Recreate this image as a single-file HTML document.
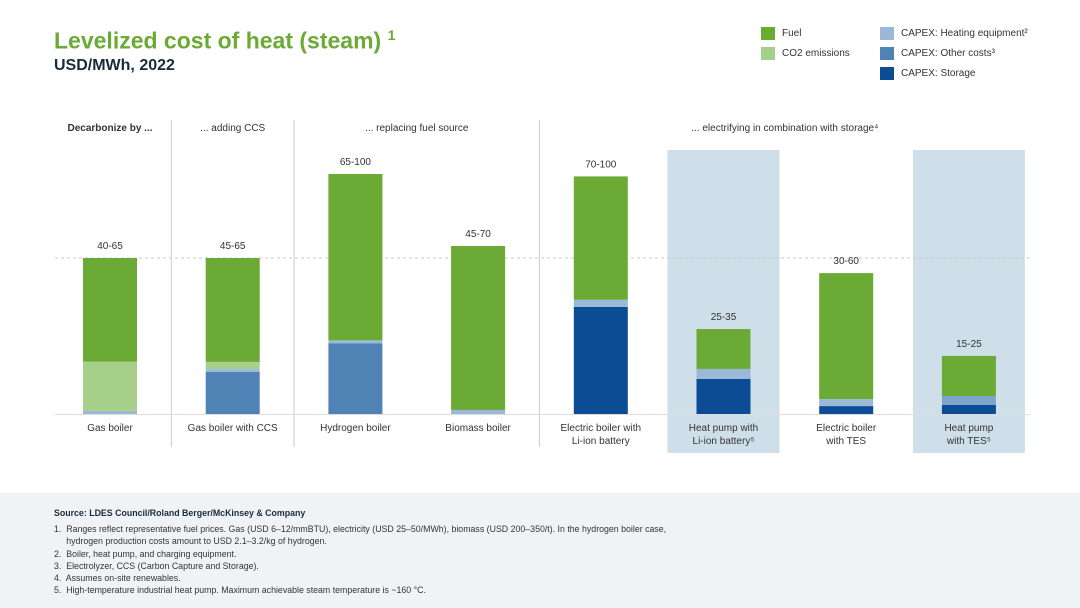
<!DOCTYPE html>
<html><head><meta charset="utf-8"><style>
body{margin:0;width:1080px;height:608px;background:#fff;font-family:"Liberation Sans",sans-serif;overflow:hidden;position:relative}
.t{position:absolute;white-space:nowrap}
</style></head><body>
<div class="t" style="left:54px;top:27px;font-size:23px;font-weight:bold;color:#6aaa35">Levelized cost of heat (steam) <sup style="font-size:14px">1</sup></div>
<div class="t" style="left:54px;top:57px;font-size:16px;font-weight:bold;color:#1a2a3a">USD/MWh, 2022</div>
<div style="position:absolute;left:0;top:0;font-size:10px;color:#333">
 <div class="t" style="left:761px;top:27px"><span style="display:inline-block;width:14px;height:13px;background:#6aaa35;vertical-align:middle;margin-right:7px"></span>Fuel</div>
 <div class="t" style="left:761px;top:47px"><span style="display:inline-block;width:14px;height:13px;background:#a6cf8a;vertical-align:middle;margin-right:7px"></span>CO2 emissions</div>
 <div class="t" style="left:880px;top:27px"><span style="display:inline-block;width:14px;height:13px;background:#9ab9d8;vertical-align:middle;margin-right:7px"></span>CAPEX: Heating equipment²</div>
 <div class="t" style="left:880px;top:47px"><span style="display:inline-block;width:14px;height:13px;background:#4f83b6;vertical-align:middle;margin-right:7px"></span>CAPEX: Other costs³</div>
 <div class="t" style="left:880px;top:67px"><span style="display:inline-block;width:14px;height:13px;background:#0b4c94;vertical-align:middle;margin-right:7px"></span>CAPEX: Storage</div>
</div>
<svg id="chart" width="1080" height="493" style="position:absolute;left:0;top:0;font-family:'Liberation Sans',sans-serif"></svg>
<div style="position:absolute;left:0;top:493px;width:1080px;height:115px;background:#f0f3f6;font-size:8.8px;color:#333;line-height:12.3px">
 <div class="t" style="left:54px;top:14px;font-weight:bold;color:#1a2a3a">Source: LDES Council/Roland Berger/McKinsey &amp; Company</div>
 <div class="t" style="left:54px;top:30px">1.&nbsp; Ranges reflect representative fuel prices. Gas (USD 6–12/mmBTU), electricity (USD 25–50/MWh), biomass (USD 200–350/t). In the hydrogen boiler case,<br>&nbsp;&nbsp;&nbsp;&nbsp; hydrogen production costs amount to USD 2.1–3.2/kg of hydrogen.<br>2.&nbsp; Boiler, heat pump, and charging equipment.<br>3.&nbsp; Electrolyzer, CCS (Carbon Capture and Storage).<br>4.&nbsp; Assumes on-site renewables.<br>5.&nbsp; High-temperature industrial heat pump. Maximum achievable steam temperature is ~160 °C.</div>
</div>
<script>
const categories=["Gas boiler","Gas boiler with CCS","Hydrogen boiler","Biomass boiler","Electric boiler with Li-ion battery","Heat pump with Li-ion battery","Electric boiler with TES","Heat pump with TES"];
const labelLines=[["Gas boiler"],["Gas boiler with CCS"],["Hydrogen boiler"],["Biomass boiler"],["Electric boiler with","Li-ion battery"],["Heat pump with","Li-ion battery⁵"],["Electric boiler","with TES"],["Heat pump","with TES⁵"]];
const ranges=["40-65","45-65","65-100","45-70","70-100","25-35","30-60","15-25"];
const storage=[0,0,0,0,44.6,14.6,3.3,3.75];
const other=[0,17.5,29.5,0,0,0,0,0];
const heating=[1.3,1.2,1.2,1.7,3,4.2,2.9,3.75];
const co2=[20.5,3,0,0,0,0,0,0];
const fuel=[43.2,43.3,69.3,68.3,51.4,16.6,52.5,16.7];
const highlighted=[false,false,false,false,false,true,false,true];
const groupHeaders=["Decarbonize by ...","... adding CCS","... replacing fuel source","... electrifying in combination with storage⁴"];
const groupStart=[0,1,2,4],groupEnd=[0,1,3,7];

const svg=document.getElementById('chart');const NS='http://www.w3.org/2000/svg';
function mk(t,a,p){const e=document.createElementNS(NS,t);for(const k in a)e.setAttribute(k,a[k]);(p||svg).appendChild(e);return e;}
const base=414,ppu=2.4,x0=110,step=122.7,bw=54;
const y=v=>base-v*ppu, xc=i=>x0+i*step;
categories.forEach((c,i)=>{if(highlighted[i]){const r=mk('rect',{x:xc(i)-56,y:150,width:112,height:303,fill:'#cfdfea'});

}});
mk('line',{x1:55,x2:1030,y1:y(65),y2:y(65),stroke:'#c8c8c8','stroke-dasharray':'3,3'});
groupHeaders.forEach((h,g)=>{const cx=(xc(groupStart[g])+xc(groupEnd[g]))/2;const t=mk('text',{x:g==0?xc(0):cx,y:131,'text-anchor':'middle','font-size':10,fill:'#333','font-weight':g==0?'bold':'normal'});t.textContent=h;


if(g>0){const l=mk('line',{x1:xc(groupStart[g])-step/2,x2:xc(groupStart[g])-step/2,y1:120,y2:447,stroke:'#ccc'});

}});
const series=[[storage,'#0b4c94','storage'],[other,'#4f83b6','other'],[heating,'#9ab9d8','heating'],[co2,'#a6cf8a','co2'],[fuel,'#6aaa35','fuel']];
categories.forEach((c,i)=>{let acc=0;series.forEach(([arr,col,n])=>{const v=arr[i];if(v>0){const fill=(n==='heating'&&i===7)?'#7fa3cb':col;const r=mk('rect',{x:xc(i)-bw/2,y:y(acc+v),width:bw,height:v*ppu,fill:fill});

}acc+=v;});
const t=mk('text',{x:xc(i),y:y(acc)-9,'text-anchor':'middle','font-size':10,fill:'#333'});t.textContent=ranges[i];


labelLines[i].forEach((ln,j)=>{const l=mk('text',{x:xc(i),y:431+j*13,'text-anchor':'middle','font-size':10,fill:'#333'});l.textContent=ln;

});});
const b=mk('line',{x1:55,x2:1030,y1:base+0.5,y2:base+0.5,stroke:'#ddd'});


</script>
</body></html>
